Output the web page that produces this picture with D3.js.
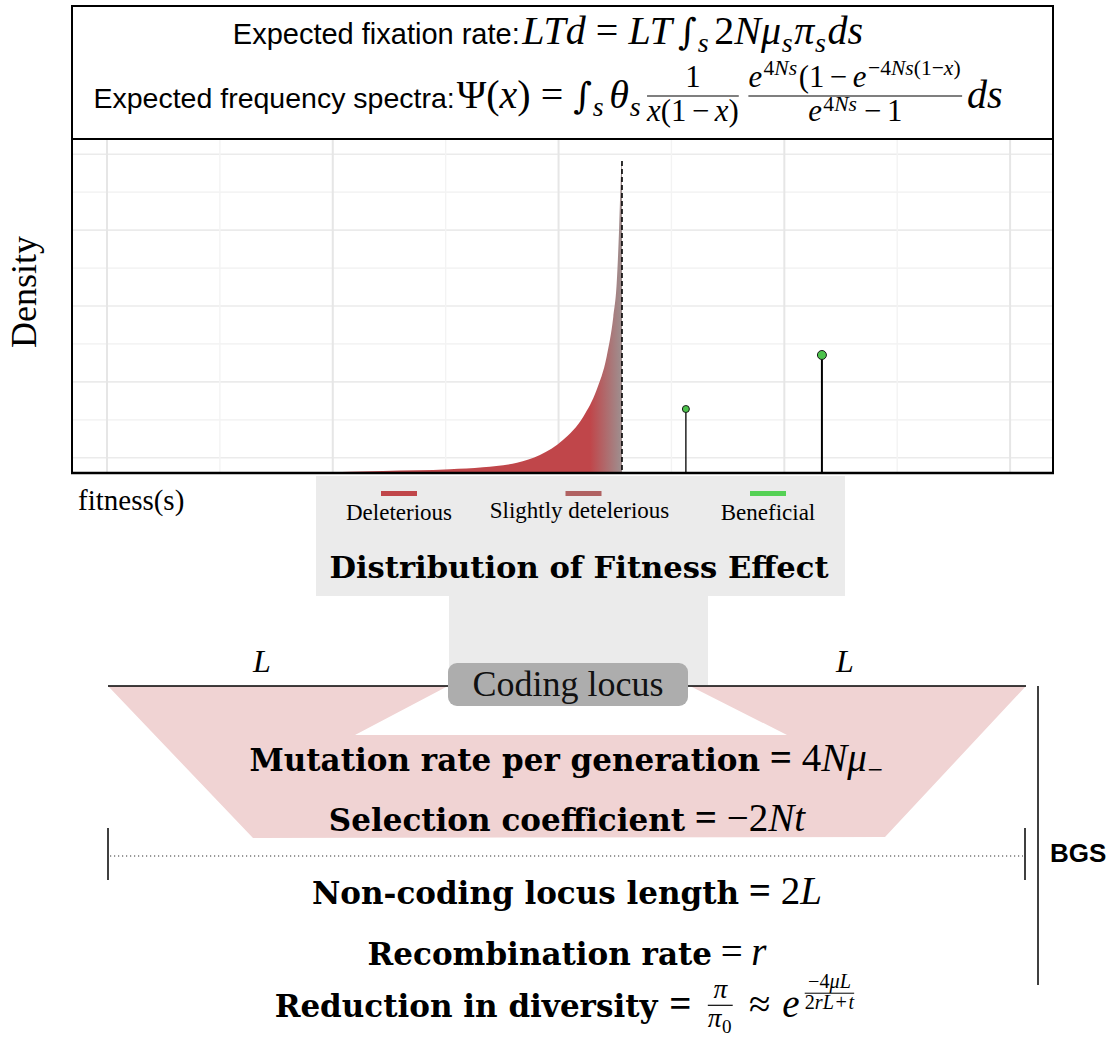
<!DOCTYPE html>
<html>
<head>
<meta charset="utf-8">
<script src="https://cdn.jsdelivr.net/npm/d3@7"></script>
<style>
  body { margin: 0; background: #fff; }
  svg { display: block; }
</style>
</head>
<body>
<script>
// ---- DFE data (plot units) ----
// deleterious / slightly deleterious part of the distribution
const dfeS = [-2.14, -1.555, -0.962, -0.67, -0.368, -0.165, 0.039, 0.219, 0.337, 0.426, 0.485, 0.515, 0.535, 0.550, 0.559, 0.562];
const dfeDensity = [0.008, 0.053, 0.097, 0.15, 0.271, 0.474, 0.87, 1.484, 2.187, 3.065, 4.119, 4.998, 6.316, 7.634, 8.161, 8.17];
// neutral boundary (dashed line)
const neutralS = 0.562;
// beneficial point masses
const beneficialS = [1.128, 2.333];
const beneficialDensity = [1.686, 3.109];
// panel grid
const xMajor = [-4, -2, 0, 2, 4];
const xMinor = [-3, -1, 1, 3];
const yMajor = [0.4, 2.4, 4.4, 6.4, 8.4];
const yMinor = [1.4, 3.4, 5.4, 7.4];
// legend
const legendLabels = ["Deleterious", "Slightly detelerious", "Beneficial"];
const legendColors = ["#C0464A", "#B06262", "#55D155"];

const SERIF = "'Liberation Serif', 'Times New Roman', serif";
const MATH = SERIF;
const BSERIF = "'DejaVu Serif', serif";
const SANS = "'Liberation Sans', Arial, sans-serif";

const W = 1120, H = 1039;
const svg = d3.select("body").append("svg").attr("width", W).attr("height", H);

// ---- tiny math typesetter: rows of text, sub/superscripts, fractions ----
function row(g, items, x, y, size, cramped) {
  let cx = x;
  for (const it of items) cx += piece(g, it, cx, y, size, cramped);
  return cx - x;
}
function piece(g, it, x, y, size, cramped) {
  if (typeof it === "string") it = { t: it };
  if (it.t !== undefined) {
    const sz = size * (it.s || 1);
    const l = (it.l || 0) * size, r = (it.r || 0) * size;
    const el = g.append("text")
      .attr("x", x + l).attr("y", y)
      .attr("font-family", it.f || MATH)
      .attr("font-size", sz)
      .attr("font-style", it.i ? "italic" : null)
      .attr("font-weight", it.b ? "bold" : null)
      .attr("fill", "#000")
      .text(it.t);
    return l + el.node().getComputedTextLength() + r;
  }
  if (it.sub) return row(g, it.sub, x + 0.02 * size, y + 0.2 * size, size * 0.7, true) + 0.06 * size;
  if (it.sup) return row(g, it.sup, x + 0.05 * size, y - (cramped ? 0.3 : 0.4) * size, size * 0.7, cramped) + 0.1 * size;
  if (it.num) {
    const s2 = size * (it.k || 0.72);
    const axis = y - 0.3 * size;
    const pad = 0.12 * size;
    const gn = g.append("g"), gd = g.append("g");
    const wn = row(gn, it.num, 0, axis - 0.28 * s2, s2, false);
    const wd = row(gd, it.den, 0, axis + 0.8 * s2, s2, true);
    const w = Math.max(wn, wd);
    gn.attr("transform", `translate(${x + pad + (w - wn) / 2},0)`);
    gd.attr("transform", `translate(${x + pad + (w - wd) / 2},0)`);
    g.append("line")
      .attr("x1", x + pad).attr("x2", x + pad + w)
      .attr("y1", axis).attr("y2", axis)
      .attr("stroke", "#000").attr("stroke-width", Math.max(1, size * 0.03));
    return w + 2 * pad;
  }
  return 0;
}
function centeredRow(items, cx, y, size) {
  const g = svg.append("g");
  const w = row(g, items, 0, y, size, false);
  g.attr("transform", `translate(${cx - w / 2},0)`);
  return g;
}

const s_ = { t: "s", i: true };
const eq = { t: "=", l: 0.25, r: 0.25 };
const minus = { t: "−", l: 0.18, r: 0.18 };
const integral = { t: "∫", f: BSERIF, s: 0.9 };

// ---- header box with the two formulas ----
svg.append("rect").attr("x", 72).attr("y", 6).attr("width", 981).attr("height", 133)
  .attr("fill", "#fff").attr("stroke", "#000").attr("stroke-width", 2);

centeredRow([
  { t: "Expected fixation rate:", f: SANS, s: 0.725, r: 0.06 },
  { t: "LTd", i: true }, eq,
  { t: "LT", i: true, r: 0.15 },
  integral, { sub: [s_] }, { t: "", r: 0.1 },
  { t: "2" }, { t: "N", i: true }, { t: "μ", i: true }, { sub: [s_] },
  { t: "π", i: true }, { sub: [s_] }, { t: "ds", i: true }
], 548, 44, 40);

centeredRow([
  { t: "Expected frequency spectra:", f: SANS, s: 0.7125, r: 0.05 },
  { t: "Ψ" }, { t: "(" }, { t: "x", i: true }, { t: ")" }, eq,
  integral, { sub: [s_] }, { t: "", r: 0.1 },
  { t: "θ", i: true }, { sub: [s_] },
  { num: [{ t: "1" }], den: [{ t: "x", i: true }, { t: "(1" }, minus, { t: "x", i: true }, { t: ")" }], k: 0.77 },
  { num: [{ t: "e", i: true }, { sup: [{ t: "4" }, { t: "Ns", i: true }] }, { t: "(1" }, minus, { t: "e", i: true },
          { sup: [{ t: "−4" }, { t: "Ns", i: true }, { t: "(1−" }, { t: "x", i: true }, { t: ")" }] }],
    den: [{ t: "e", i: true }, { sup: [{ t: "4" }, { t: "Ns", i: true }] }, minus, { t: "1" }], k: 0.77 },
  { t: "ds", i: true }
], 548, 108, 40);

// ---- DFE panel ----
const px0 = 72, px1 = 1053, py0 = 139, py1 = 473;
const x = d3.scaleLinear().domain([-4.31, 4.38]).range([px0, px1]);
const y = d3.scaleLinear().domain([0, 8.8]).range([py1, py0]);

svg.append("rect").attr("x", px0).attr("y", py0).attr("width", px1 - px0).attr("height", py1 - py0)
  .attr("fill", "#fff");

const defs = svg.append("defs");
defs.append("clipPath").attr("id", "panel").append("rect")
  .attr("x", px0).attr("y", py0).attr("width", px1 - px0).attr("height", py1 - py0);
const grad = defs.append("linearGradient").attr("id", "dfeFill")
  .attr("gradientUnits", "userSpaceOnUse")
  .attr("x1", x(0.28)).attr("x2", x(neutralS)).attr("y1", 0).attr("y2", 0);
grad.append("stop").attr("offset", 0).attr("stop-color", "#C0464A");
grad.append("stop").attr("offset", 1).attr("stop-color", "#9E9090");

const panel = svg.append("g").attr("clip-path", "url(#panel)");
panel.selectAll(".ymin").data(yMinor).join("line")
  .attr("x1", px0).attr("x2", px1).attr("y1", d => y(d)).attr("y2", d => y(d))
  .attr("stroke", "#F0F0F0").attr("stroke-width", 1.2);
panel.selectAll(".ymaj").data(yMajor).join("line")
  .attr("x1", px0).attr("x2", px1).attr("y1", d => y(d)).attr("y2", d => y(d))
  .attr("stroke", "#EBEBEB").attr("stroke-width", 1.6);
panel.selectAll(".xmin").data(xMinor).join("line")
  .attr("y1", py0).attr("y2", py1).attr("x1", d => x(d)).attr("x2", d => x(d))
  .attr("stroke", "#F3F3F3").attr("stroke-width", 1.4);
panel.selectAll(".xmaj").data(xMajor).join("line")
  .attr("y1", py0).attr("y2", py1).attr("x1", d => x(d)).attr("x2", d => x(d))
  .attr("stroke", "#E6E6E6").attr("stroke-width", 2);

const dfe = dfeS.map((s, i) => ({ s, d: dfeDensity[i] }));
const area = d3.area().x(p => x(p.s)).y0(py1).y1(p => y(p.d)).curve(d3.curveMonotoneX);
panel.append("path").datum(dfe).attr("d", area).attr("fill", "url(#dfeFill)");

panel.append("line")
  .attr("x1", x(neutralS)).attr("x2", x(neutralS))
  .attr("y1", y(d3.max(dfeDensity)) - 2).attr("y2", py1)
  .attr("stroke", "#000").attr("stroke-width", 1.6).attr("stroke-dasharray", "5,3");

const ben = beneficialS.map((s, i) => ({ s, d: beneficialDensity[i], big: i === 1 }));
panel.selectAll(".stem").data(ben).join("line")
  .attr("x1", p => x(p.s)).attr("x2", p => x(p.s))
  .attr("y1", p => y(p.d)).attr("y2", py1)
  .attr("stroke", "#000").attr("stroke-width", p => p.big ? 2 : 1.3);
panel.selectAll(".head").data(ben).join("circle")
  .attr("cx", p => x(p.s)).attr("cy", p => y(p.d))
  .attr("r", p => p.big ? 4.5 : 3.5)
  .attr("fill", "#4CC34C").attr("stroke", "#1a1a1a").attr("stroke-width", 1);

// panel frame
svg.append("line").attr("x1", px0).attr("x2", px1).attr("y1", py0).attr("y2", py0)
  .attr("stroke", "#000").attr("stroke-width", 2);
svg.append("line").attr("x1", px0).attr("x2", px0).attr("y1", py0).attr("y2", py1)
  .attr("stroke", "#000").attr("stroke-width", 2);
svg.append("line").attr("x1", px1).attr("x2", px1).attr("y1", py0).attr("y2", py1)
  .attr("stroke", "#000").attr("stroke-width", 2);
svg.append("line").attr("x1", px0 - 1).attr("x2", px1 + 1).attr("y1", py1).attr("y2", py1)
  .attr("stroke", "#000").attr("stroke-width", 2.6);

// axis titles
svg.append("text").attr("transform", "translate(36,292) rotate(-90)")
  .attr("text-anchor", "middle").attr("font-family", SERIF).attr("font-size", 36)
  .text("Density");
svg.append("text").attr("x", 78).attr("y", 510)
  .attr("font-family", SERIF).attr("font-size", 29).text("fitness(s)");

// ---- legend / title box and connector ----
svg.append("rect").attr("x", 449).attr("y", 590).attr("width", 259).attr("height", 95).attr("fill", "#EBEBEB");
svg.append("rect").attr("x", 316).attr("y", 476).attr("width", 529).attr("height", 120).attr("fill", "#EBEBEB");

const lx = d3.scalePoint().domain(legendLabels).range([399, 768]);
const lg = svg.append("g");
lg.selectAll("rect").data(legendLabels).join("rect")
  .attr("x", d => lx(d) - 18).attr("y", 491).attr("width", 36).attr("height", 5)
  .attr("fill", (d, i) => legendColors[i]);
lg.selectAll("text").data(legendLabels).join("text")
  .attr("x", d => lx(d) + (d === "Slightly detelerious" ? -4 : 0))
  .attr("y", (d, i) => i === 1 ? 518 : 520)
  .attr("text-anchor", "middle").attr("font-family", SERIF).attr("font-size", 23)
  .text(d => d);

svg.append("text").attr("x", 579).attr("y", 578).attr("text-anchor", "middle")
  .attr("font-family", BSERIF).attr("font-weight", "bold").attr("font-size", 30.6)
  .text("Distribution of Fitness Effect");

// ---- linked-selection schematic ----
svg.append("polygon")
  .attr("points", [[108, 686], [448, 686], [355, 735], [787, 735], [690, 686], [1026, 686], [885, 837], [253, 838]].join(" "))
  .attr("fill", "#F0D3D3");

svg.append("line").attr("x1", 108).attr("x2", 450).attr("y1", 686).attr("y2", 686).attr("stroke", "#000").attr("stroke-width", 1.6);
svg.append("line").attr("x1", 686).attr("x2", 1026).attr("y1", 686).attr("y2", 686).attr("stroke", "#000").attr("stroke-width", 1.6);

svg.append("rect").attr("x", 448).attr("y", 663).attr("width", 240).attr("height", 43).attr("rx", 9)
  .attr("fill", "#ADADAD");
svg.append("text").attr("x", 568).attr("y", 696).attr("text-anchor", "middle")
  .attr("font-family", SERIF).attr("font-size", 36).attr("fill", "#111").text("Coding locus");

[262, 845].forEach(cx => {
  svg.append("text").attr("x", cx).attr("y", 672).attr("text-anchor", "middle")
    .attr("font-family", SERIF).attr("font-style", "italic").attr("font-size", 32).text("L");
});

// non-coding locus span
svg.append("line").attr("x1", 110).attr("x2", 1023).attr("y1", 856).attr("y2", 856)
  .attr("stroke", "#333").attr("stroke-width", 1.2).attr("stroke-dasharray", "1.2,2.8");
[108, 1025].forEach(vx => svg.append("line").attr("x1", vx).attr("x2", vx).attr("y1", 828).attr("y2", 880)
  .attr("stroke", "#000").attr("stroke-width", 1.5));

// BGS bracket
svg.append("line").attr("x1", 1038).attr("x2", 1038).attr("y1", 686).attr("y2", 985)
  .attr("stroke", "#000").attr("stroke-width", 1.5);
svg.append("text").attr("x", 1050).attr("y", 862).attr("font-family", SANS).attr("font-weight", "bold")
  .attr("font-size", 26).text("BGS");

const MS = 39;
const B = t => ({ t, f: BSERIF, b: true, s: 31 / MS });
const beq = { t: "=", b: true, l: 0.25, r: 0.25 };
centeredRow([B("Mutation rate per generation"), beq, { t: "4" }, { t: "N", i: true }, { t: "μ", i: true }, { sub: [{ t: "−" }] }], 567, 771, MS);
centeredRow([B("Selection coefficient"), beq, { t: "−2" }, { t: "Nt", i: true }], 567, 831, MS);
centeredRow([B("Non-coding locus length"), beq, { t: "2" }, { t: "L", i: true }], 567, 904, MS);
centeredRow([B("Recombination rate"), { t: "=", l: 0.22, r: 0.22 }, { t: "r", i: true }], 567, 965, MS);
centeredRow([B("Reduction in diversity"), { t: "=", b: true, l: 0.3, r: 0.3 },
  { num: [{ t: "π", i: true }], den: [{ t: "π", i: true }, { sub: [{ t: "0" }] }], k: 0.7 },
  { t: "≈", l: 0.3, r: 0.3 }, { t: "e", i: true },
  { sup: [{ num: [{ t: "−4" }, { t: "μL", i: true }], den: [{ t: "2" }, { t: "rL", i: true }, { t: "+", l: 0.08, r: 0.08 }, { t: "t", i: true }], k: 0.74 }] }
], 567, 1017, MS);
</script>
</body>
</html>
